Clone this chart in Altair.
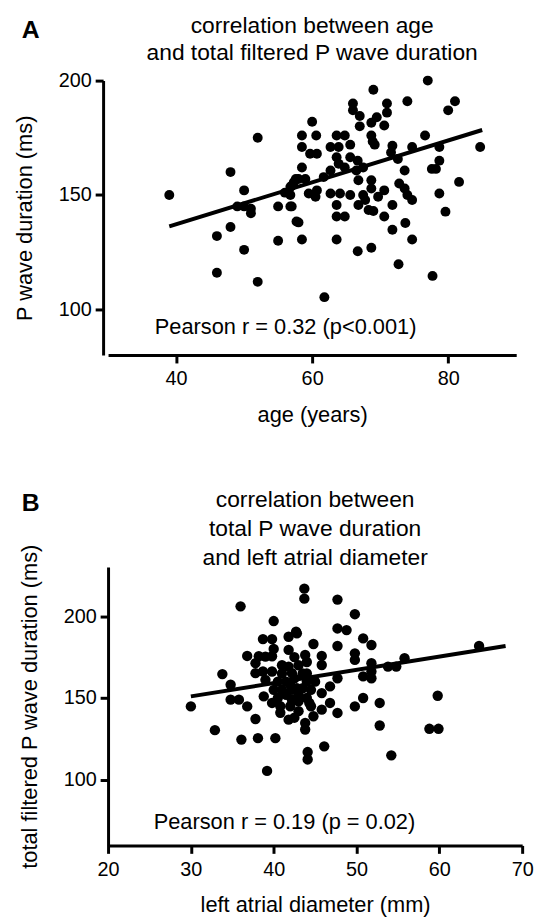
import altair as alt
import pandas as pd

FONT = "Liberation Sans"

# ---------- Panel A: age vs total filtered P wave duration ----------
age = [39, 52, 48, 50, 49, 50, 51, 51, 48, 46, 50, 46, 52, 55, 55, 57, 56, 57, 58, 58,
       77, 69, 74, 81, 80, 66, 66, 67, 67, 71, 71, 69.5, 68.7, 70.6, 60, 58.5, 60.6, 58.5,
       59.7, 60.7, 63.6, 64.8, 62.7, 63.9, 65.6, 68.7, 68.9, 69.2, 71.8, 71.6, 74.7, 76.6,
       78.7, 78.7, 77.6, 78.2, 84.7, 72.6, 73.6, 66.7, 66.5, 67.5, 63.6, 63.9, 64.8, 65.6,
       62.7, 61.7, 58.5, 57.6, 56.8, 59, 56.8, 56.8, 57.7, 59.5, 60.5, 60.7, 62.7, 64.1,
       65.6, 66.8, 68.7, 68.7, 70.6, 69.7, 72.8, 73.6, 74.7, 74, 67.5, 67.8, 66.8, 68.3,
       63.6, 63.6, 64.8, 69, 71.8, 70.6, 78.7, 81.6, 79.6, 73.7, 71.8, 74.7, 58.5, 63.6,
       66.7, 68.7, 72.7, 77.7, 61.8, 57.3]
dur_a = [150, 175, 160, 152, 145, 145, 144, 142, 136, 132, 126, 116, 112, 145, 130, 145, 151, 154, 157, 138,
         200, 196, 191, 191, 187, 190, 187, 184.5, 180, 190, 186, 184, 181.6, 180.4, 182, 176, 176, 171,
         168, 168, 176, 176, 171, 171, 172, 176, 173.4, 172, 171.5, 168.6, 171, 176,
         171, 165, 161.4, 161.4, 171, 165.7, 160.7, 165, 160.7, 162, 166.5, 163.6, 162, 166.5,
         160.7, 157.8, 162, 157, 153.5, 157, 150, 145, 138.4, 150.6, 149.2, 152, 150.6, 150.6,
         150, 156.4, 156.4, 152.8, 152, 149.2, 155, 152.8, 147.8, 150, 150, 147.8, 145.6, 143.4,
         145.6, 140.6, 140.6, 143, 145.6, 140.6, 150.6, 155.7, 142.7, 137.7, 134.8, 130.5, 130.5, 130.5,
         125.4, 126.9, 119.7, 114.6, 105.3, 155.5]
fit_a_x = [39, 85]
fit_a_y = [136.3, 178.4]
title_a = ["correlation between age", "and total filtered P wave duration"]
note_a = "Pearson r = 0.32 (p<0.001)"

# ---------- Panel B: left atrial diameter vs total P wave duration ----------
la = [36, 40, 38.7, 39.8, 41.8, 42.7, 36.8, 38.2, 39, 39.8, 37.8, 33.8, 37.8, 38.7, 39.8, 39, 41.8, 42.2,
      41.8, 34.8, 34.8, 35.8, 36.8, 30, 37.8, 32.9, 36.1, 38.1, 40.2, 39.2, 38.8, 39.8, 40.8, 41.8, 42.2, 42.2,
      43.7, 43.7, 47.7, 49.8, 47.7, 48.8, 42.8, 50.8, 51.8, 47.7, 44.8, 49.8, 49.8, 43.8, 45.8, 45.8,
      51.8, 51.8, 53.8, 54.8, 55.8, 64.8, 50.8, 51.8, 47.7, 46.8, 45.8, 50.8, 49.8, 47.7, 46.8, 45.8,
      44.8, 43.8, 43.8, 52.8, 52.8, 59.8, 58.8, 59.9, 46.1, 44.1, 44.1, 54.2,
      40.5, 41, 41.5, 42, 42.5, 43, 43, 43.5, 44, 44, 44.5, 42, 43, 44, 43, 41, 40, 40.5, 44.5,
      42.5, 41, 43.5, 40, 44, 45, 42.8, 41.5, 44.3, 40.8, 42.5]
dur_b = [206, 197, 186, 186, 187.4, 190.5, 175.7, 175.5, 175.3, 175.5, 171.3, 164.6, 165.2, 166.2, 166.2,
         161.1, 169.2, 165.2, 179.4, 158.1, 149, 149, 144.9, 144.9, 137.2, 130.4, 124.6, 125.5, 125.5, 105.5,
         151, 147, 145, 136.8, 155, 149,
         216.8, 210.7, 210.1, 201.2, 192.5, 191.5, 189.5, 186.4, 182.4, 181.8, 183, 177.3, 173.3, 176.3,
         175.7, 170.2, 171.3, 166.2, 169.2, 169.2, 174.3, 181.8, 163.2, 162.1, 162.1, 157.1, 153, 150,
         144.9, 140.9, 147, 142.9, 138.9, 134.8, 130.8, 147, 133.2, 151.4, 131.2, 131.2, 120.5, 117, 112.5, 115,
         160, 155, 152, 158, 162, 152, 148, 156, 160, 150, 145, 145, 142, 165, 170, 170, 155, 150, 155,
         175, 165, 165, 180, 172, 160, 156, 160, 147, 141, 138]
fit_b_x = [30, 68]
fit_b_y = [151, 181.8]
title_b = ["correlation between", "total P wave duration", "and left atrial diameter"]
note_b = "Pearson r = 0.19 (p = 0.02)"


def panel(xs, ys, fx, fy, note, note_xy, letter, title, title_offset, title_lh,
          xdom, ydom, xticks, yticks, xtitle, ytitle, w, h, size, yoffset, letter_xy, xtpad):
    pts = pd.DataFrame({"x": xs, "y": ys})
    fit = pd.DataFrame({"x": fx, "y": fy})
    ann = pd.DataFrame({"x": [note_xy[0]], "y": [note_xy[1]], "t": [note]})
    let = pd.DataFrame({"t": [letter]})

    xenc = alt.X("x:Q", scale=alt.Scale(domain=xdom, nice=False, zero=False),
                 axis=alt.Axis(values=xticks, title=xtitle, labelPadding=6, titlePadding=xtpad,
                               labelFlush=False))
    yenc = alt.Y("y:Q", scale=alt.Scale(domain=ydom, nice=False, zero=False),
                 axis=alt.Axis(values=yticks, title=ytitle, offset=yoffset, labelPadding=4,
                               titlePadding=22, labelFlush=False))

    scatter = alt.Chart(pts).mark_circle(size=size, color="black", opacity=1).encode(x=xenc, y=yenc)
    line = alt.Chart(fit).mark_line(color="black", strokeWidth=4).encode(x="x:Q", y="y:Q")
    text = alt.Chart(ann).mark_text(font=FONT, fontSize=22, color="black", align="center",
                                    baseline="middle").encode(x="x:Q", y="y:Q", text="t:N")
    lab = alt.Chart(let).mark_text(font=FONT, fontSize=25, fontWeight="bold", color="black",
                                   align="center", baseline="middle").encode(
        x=alt.value(letter_xy[0]), y=alt.value(letter_xy[1]), text="t:N")

    return alt.layer(scatter, line, text, lab).properties(
        width=w, height=h,
        title=alt.TitleParams(text=title, font=FONT, fontSize=23, fontWeight="normal",
                              anchor="middle", offset=title_offset, lineHeight=title_lh,
                              color="black"))


pa = panel(age, dur_a, fit_a_x, fit_a_y, note_a, (56.1, 92.4), "A", title_a, 16 - 63.5, 28,
           [30, 90], [80, 200], [40, 60, 80], [100, 150, 200], "age (years)",
           "P wave duration (ms)", 412, 277, 100, 5, (-78, -51), 16)
pb = panel(la, dur_b, fit_b_x, fit_b_y, note_b, (41.3, 74.5), "B", title_b, -2 - 77.5, 29,
           [20, 70], [60, 230], [20, 30, 40, 50, 60, 70], [100, 150, 200],
           "left atrial diameter (mm)", "total filtered P wave duration (ms)", 418, 281, 110, 0,
           (-78, -65), 16)

chart = alt.vconcat(pa, pb, spacing=64).properties(
    padding={"left": 5, "right": 5, "top": 2, "bottom": 0}
).configure_view(stroke=None).configure_axis(
    domainColor="black", domainWidth=3, tickColor="black", tickWidth=3, tickSize=8,
    labelFont=FONT, labelFontSize=20, labelColor="black",
    titleFont=FONT, titleFontSize=22, titleFontWeight="normal", titleColor="black",
    grid=False
)

chart.save("out.html", embed_options={"renderer": "svg", "actions": False})
